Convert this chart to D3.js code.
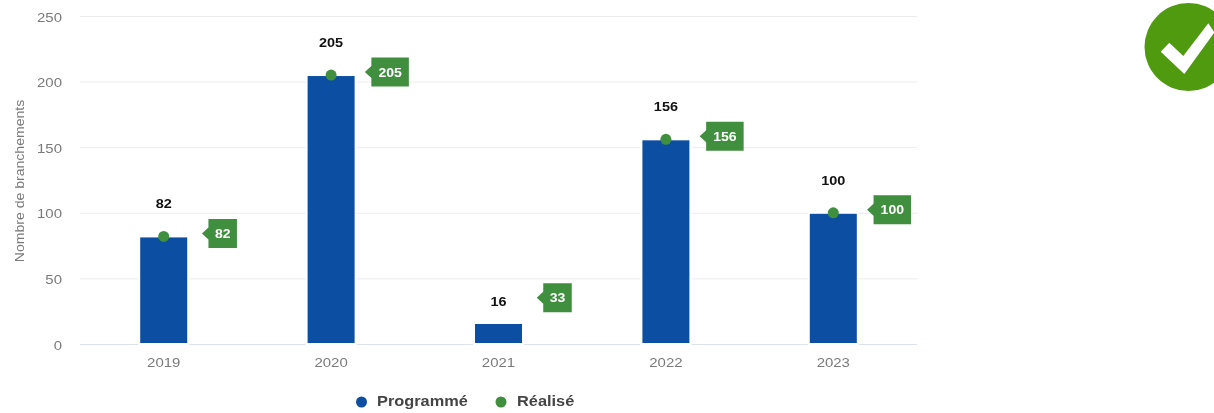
<!DOCTYPE html>
<html><head><meta charset="utf-8">
<script src="https://cdn.jsdelivr.net/npm/d3@7"></script>
<style>
html,body{margin:0;padding:0;background:#fff;overflow:hidden}
svg{display:block;font-family:"Liberation Sans",Arial,sans-serif;filter:blur(0.45px)}
</style></head><body>
<svg id="c" width="1214" height="413"></svg>
<script>
const years = ["2019","2020","2021","2022","2023"];
const programme = [82,205,16,156,100];
const realise = [82,205,33,156,100];
const yTicks = [0,50,100,150,200,250];
const yTitle = "Nombre de branchements";
const seriesNames = ["Programmé","Réalisé"];
const BLUE="#0b4ea2", GREEN="#3f8f3f";

const svg=d3.select("#c");
const x=d3.scaleBand().domain(years).range([80,917]).paddingInner(0).paddingOuter(0);
const y=d3.scaleLinear().domain([0,250]).range([344,16]);
const bw=49;
const cx=d=>x(d)+x.bandwidth()/2;
const boxW=v=>String(v).length*9+10.5;
// the reference's text is horizontally stretched: widen each string by a factor
const widen=(sel,f)=>sel.each(function(){
  this.setAttribute("textLength",this.getComputedTextLength()*f);
  this.setAttribute("lengthAdjust","spacingAndGlyphs");
});

// grid
svg.append("g").selectAll("line").data(yTicks).join("line")
  .attr("x1",80).attr("x2",917).attr("y1",d=>y(d)+.5).attr("y2",d=>y(d)+.5)
  .attr("stroke",d=>d===0?"#dde3ee":"#ececec").attr("stroke-width",1);
// y labels
svg.append("g").selectAll("text").data(yTicks).join("text")
  .attr("x",62).attr("y",d=>y(d)+5.5).attr("text-anchor","end")
  .attr("font-size",13).attr("fill","#7a7a7a").text(d=>d).call(widen,1.15);
svg.append("text").attr("transform","translate(24,181) rotate(-90)")
  .attr("text-anchor","middle").attr("font-size",12).attr("fill","#7a7a7a").text(yTitle).call(widen,1.17);
// x labels
svg.append("g").selectAll("text").data(years).join("text")
  .attr("x",cx).attr("y",367).attr("text-anchor","middle")
  .attr("font-size",13).attr("fill","#7a7a7a").text(d=>d).call(widen,1.15);
// bars
svg.append("g").selectAll("rect").data(years).join("rect")
  .attr("x",d=>cx(d)-bw/2).attr("width",bw)
  .attr("y",(d,i)=>y(programme[i])).attr("height",(d,i)=>y(0)-y(programme[i]))
  .attr("fill",BLUE).attr("stroke","#fff").attr("stroke-width",2);
// realised points
svg.append("g").selectAll("circle").data(years).join("circle")
  .attr("cx",cx).attr("cy",(d,i)=>y(realise[i])).attr("r",5.5).attr("fill",GREEN);
// programme labels: above the bar, except 2021 where it sits on the point
svg.append("g").selectAll("text").data(years).join("text")
  .attr("x",cx).attr("y",(d,i)=>programme[i]<realise[i]?y(realise[i])+5:y(programme[i])-28)
  .attr("text-anchor","middle")
  .attr("font-size",13.5).attr("font-weight","bold").attr("fill","#111")
  .attr("stroke","#fff").attr("stroke-width",(d,i)=>programme[i]<realise[i]?11:3).attr("paint-order","stroke").attr("stroke-linejoin","round")
  .text((d,i)=>programme[i]).call(widen,1.07);
// realised callouts
const cg=svg.append("g").selectAll("g").data(years).join("g")
  .attr("transform",(d,i)=>`translate(${cx(d)+59},${y(realise[i])-3})`);
cg.append("path").attr("fill",GREEN).attr("d",(d,i)=>{
  const w=boxW(realise[i]), h=29;
  return `M${-w/2-6.5},0L${-w/2},-6V${-h/2}H${w/2}V${h/2}H${-w/2}V6Z`;
});
cg.append("text").attr("x",0).attr("y",4.5)
  .attr("text-anchor","middle").attr("font-size",13).attr("font-weight","bold").attr("fill","#fff")
  .text((d,i)=>realise[i]).call(widen,1.08);
// legend
const lx=[361.5,501],tx=[377,517],cols=[BLUE,GREEN];
const lg=svg.append("g").selectAll("g").data(seriesNames).join("g");
lg.append("circle").attr("cx",(d,i)=>lx[i]).attr("cy",402).attr("r",5.5).attr("fill",(d,i)=>cols[i]);
lg.append("text").attr("x",(d,i)=>tx[i]).attr("y",406).attr("font-size",15).attr("font-weight","bold").attr("fill","#444").text(d=>d).call(widen,1.09);
// check icon
svg.append("circle").attr("cx",1188.5).attr("cy",47).attr("r",44).attr("fill","#4f9a0f");
svg.append("path").attr("fill","#fff").attr("d","M1160.7,51.7L1169.3,42.7L1183.3,56L1208.3,23.3L1214,31.7L1214,33L1184.3,74Z");
</script>
</body></html>
